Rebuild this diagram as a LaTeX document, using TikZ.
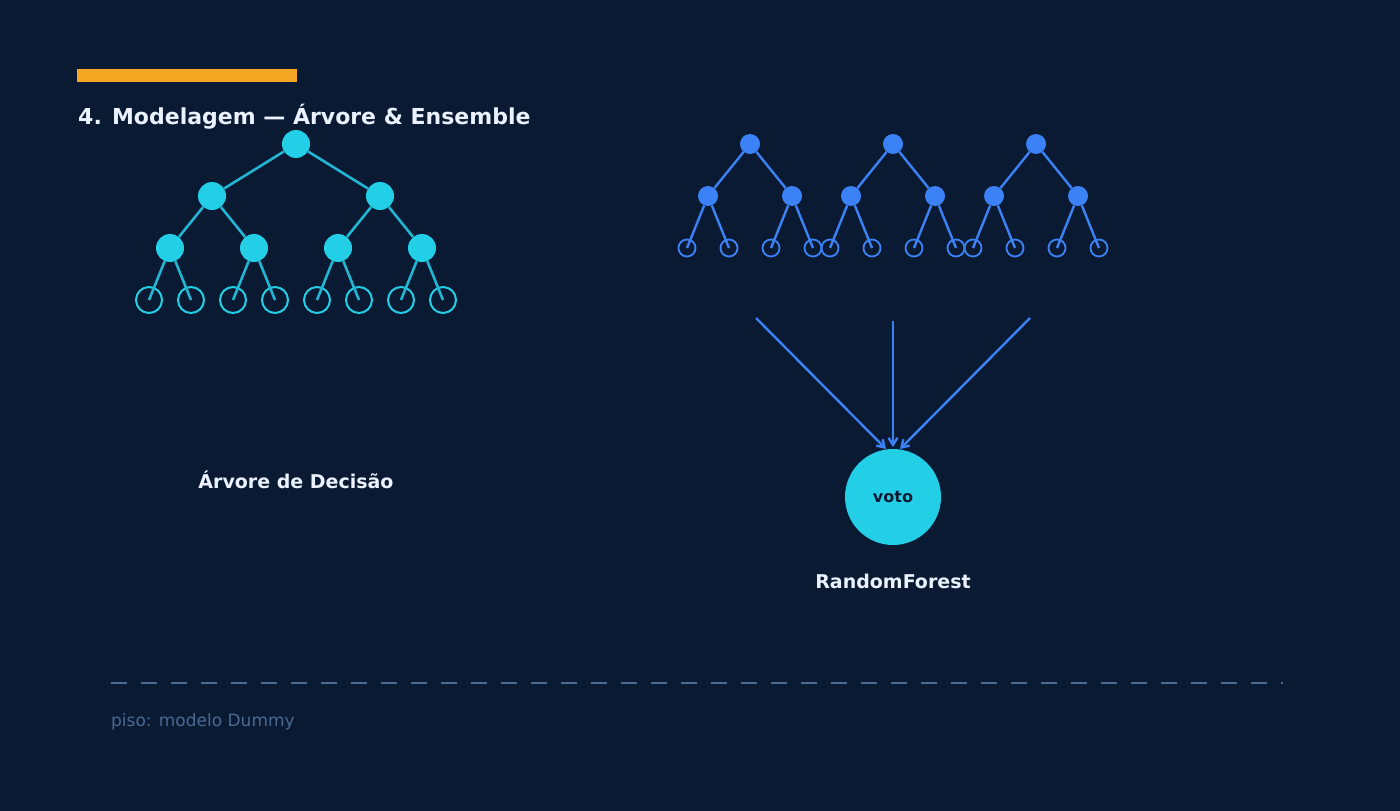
\documentclass[tikz,border=0pt]{standalone}
\usepackage{fontspec}
\setmainfont{DejaVu Sans}
\usetikzlibrary{arrows.meta}
\definecolor{bg}{HTML}{0B1A33}
\definecolor{cyanA}{HTML}{22CFE6}
\definecolor{cyanE}{HTML}{22B5D3}
\definecolor{blueA}{HTML}{3B82F6}
\definecolor{orangeA}{HTML}{F5A623}
\definecolor{dim}{HTML}{4A6A92}
\definecolor{txt}{HTML}{EAF2FF}
\begin{document}
\begin{tikzpicture}[x=1pt, y=-1pt,
  inner/.style={circle, fill=cyanA, minimum size=28pt, inner sep=0pt},
  leaf/.style={circle, draw=cyanA, line width=2pt, minimum size=26pt, inner sep=0pt},
  edge/.style={draw=cyanE, line width=2.6pt},
  finner/.style={circle, fill=blueA, minimum size=20pt, inner sep=0pt},
  fleaf/.style={circle, draw=blueA, line width=1.8pt, minimum size=17pt, inner sep=0pt},
  fedge/.style={draw=blueA, line width=2.4pt},
  vote/.style={draw=blueA, line width=2.4pt, -{Straight Barb[length=7pt,width=9pt]}}]
  \fill[bg] (0,0) rectangle (1400,811);
  \useasboundingbox (0,0) rectangle (1400,811);

  % heading
  \fill[orangeA] (77,69) rectangle (297,82);
  \node[anchor=base west, inner sep=0pt, text=txt, font=\fontsize{22}{26}\selectfont\bfseries] (title) at (78,124) {4. Modelagem — Árvore \& Ensemble};

  % single tree
  \node[inner] (r) at (296,144) {};
  \node[inner] (a) at (212,196) {};
  \node[inner] (b) at (380,196) {};
  \node[inner] (aa) at (170,248) {};
  \node[inner] (ab) at (254,248) {};
  \node[inner] (ba) at (338,248) {};
  \node[inner] (bb) at (422,248) {};
  \foreach \i/\x in {1/149,2/191,3/233,4/275,5/317,6/359,7/401,8/443}
    \node[leaf] (l\i) at (\x,300) {};
  \path[edge] (r) -- (a) (r) -- (b)
    (a) -- (aa) (a) -- (ab) (b) -- (ba) (b) -- (bb)
    (aa) -- (l1.center) (aa) -- (l2.center) (ab) -- (l3.center) (ab) -- (l4.center)
    (ba) -- (l5.center) (ba) -- (l6.center) (bb) -- (l7.center) (bb) -- (l8.center);
  \node[text=txt, font=\fontsize{19}{22}\selectfont\bfseries] (dtlabel) at (296,480) {Árvore de Decisão};

  % forest
  \foreach \t/\x in {1/750,2/893,3/1036}{
    \node[finner] (f\t) at (\x,144) {};
    \node[finner] (f\t a) at (\x-42,196) {};
    \node[finner] (f\t b) at (\x+42,196) {};
    \node[fleaf] (f\t aa) at (\x-63,248) {};
    \node[fleaf] (f\t ab) at (\x-21,248) {};
    \node[fleaf] (f\t ba) at (\x+21,248) {};
    \node[fleaf] (f\t bb) at (\x+63,248) {};
    \path[fedge] (f\t) -- (f\t a) (f\t) -- (f\t b)
      (f\t a) -- (f\t aa.center) (f\t a) -- (f\t ab.center)
      (f\t b) -- (f\t ba.center) (f\t b) -- (f\t bb.center);
  }

  % voting
  \node[circle, fill=cyanA, minimum size=96pt, inner sep=0pt, text=bg, font=\fontsize{16}{18}\selectfont\bfseries] (voto) at (893,497) {voto};
  \coordinate (s1) at (756,318);
  \coordinate (s2) at (893,321);
  \coordinate (s3) at (1030,318);
  \coordinate (e1) at (886,449);
  \coordinate (e2) at (893,447);
  \coordinate (e3) at (900,449);
  \draw[vote] (s1) -- (e1);
  \draw[vote] (s2) -- (e2);
  \draw[vote] (s3) -- (e3);
  \node[text=txt, font=\fontsize{19}{22}\selectfont\bfseries] (rflabel) at (893,581) {RandomForest};

  % baseline
  \coordinate (d1) at (111,683);
  \coordinate (d2) at (1283,683);
  \draw[dim, line width=2.2pt, dash pattern=on 16pt off 14pt] (d1) -- (d2);
  \node[anchor=base west, inner sep=0pt, text=dim, font=\fontsize{17}{20}\selectfont] (piso) at (111,726) {piso: modelo Dummy};
\end{tikzpicture}
\end{document}
